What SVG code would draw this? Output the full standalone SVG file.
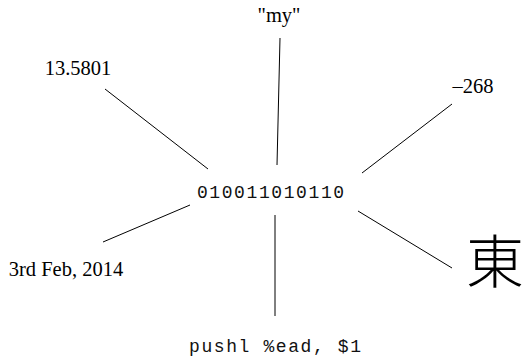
<svg xmlns="http://www.w3.org/2000/svg" width="524" height="362" viewBox="0 0 524 362">
<style>
.serif{font-family:"Liberation Serif","Times New Roman",serif;font-size:20.5px;fill:#000}
.mono{font-family:"Liberation Mono","Courier New",monospace;font-size:18px;letter-spacing:1.6px;fill:#111}
.cjk{font-family:"Noto Sans CJK JP","Noto Sans CJK SC",sans-serif;font-size:58px;font-weight:300;fill:#000}
.edge{stroke:#000;stroke-width:1;fill:none}
</style>
<rect width="524" height="362" fill="#fff"/>
<g id="connectors">
<line class="edge" x1="105" y1="89" x2="208" y2="169"/>
<line class="edge" x1="280" y1="38" x2="277" y2="165"/>
<line class="edge" x1="452" y1="104" x2="362" y2="173"/>
<line class="edge" x1="103" y1="242" x2="190" y2="205"/>
<line class="edge" x1="275" y1="215" x2="275" y2="316"/>
<line class="edge" x1="358" y1="211" x2="452" y2="268"/>
</g>
<g id="center"><text class="mono" x="271.3" y="198" text-anchor="middle">010011010110</text></g>
<g id="my"><text class="serif" x="279" y="22" text-anchor="middle">"my"</text></g>
<g id="n13"><text class="serif" x="78" y="75" text-anchor="middle">13.5801</text></g>
<g id="n268"><text class="serif" x="473" y="93" text-anchor="middle">–268</text></g>
<g id="date"><text class="serif" x="66" y="276" text-anchor="middle">3rd Feb, 2014</text></g>
<g id="asm"><text class="mono" x="275.8" y="352" text-anchor="middle">pushl %ead, $1</text></g>
<g id="kanji"><text class="cjk" x="495" y="283" text-anchor="middle">東</text></g>
</svg>
